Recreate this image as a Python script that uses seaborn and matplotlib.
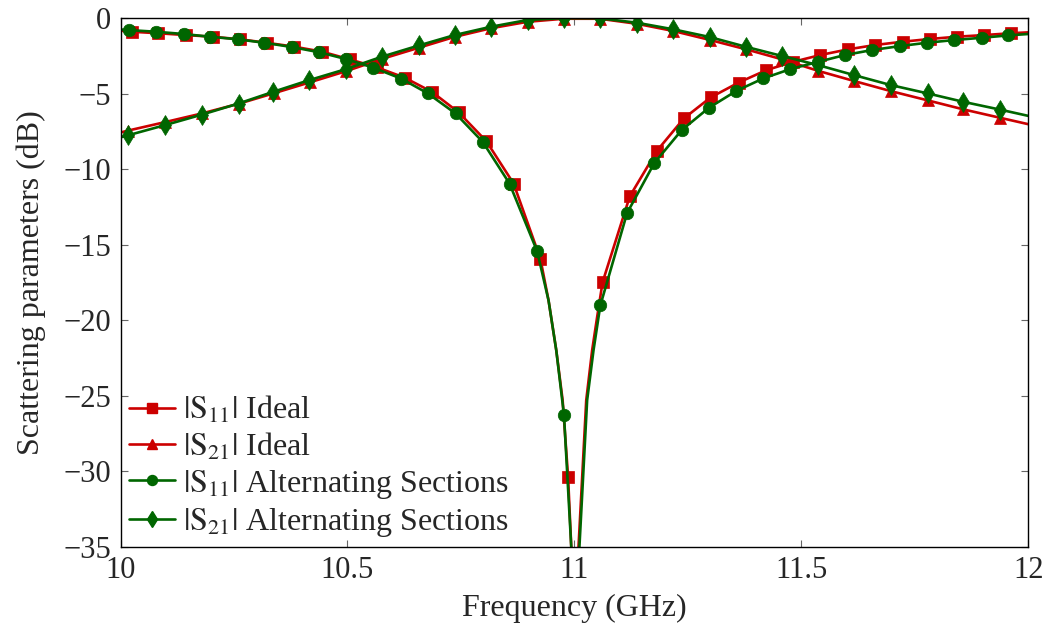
import numpy as np
import pandas as pd
import matplotlib.pyplot as plt
from matplotlib.lines import Line2D
import seaborn as sns

# |S11| ideal: marker points and extra points
s11_ideal_f = [10.025, 10.083, 10.144, 10.203, 10.263, 10.322, 10.383, 10.444, 10.505, 10.565,
               10.626, 10.686, 10.745, 10.806, 10.866, 10.925, 10.986, 11.062, 11.122, 11.182,
               11.241, 11.300, 11.362, 11.423, 11.482, 11.542, 11.602, 11.662, 11.723, 11.783,
               11.842, 11.903, 11.961]
s11_ideal_db = [-0.91, -1.01, -1.13, -1.24, -1.41, -1.64, -1.90, -2.23, -2.74, -3.27,
                -3.95, -4.89, -6.25, -8.16, -10.96, -15.94, -30.37, -17.49, -11.80, -8.78,
                -6.65, -5.26, -4.27, -3.45, -2.90, -2.45, -2.08, -1.79, -1.57, -1.39,
                -1.24, -1.13, -1.01]
s11_ideal_extra_f = [10.0, 10.943, 10.960, 10.974, 10.993, 11.001, 11.009, 11.026, 11.039, 11.050, 12.0]
s11_ideal_extra_db = [-0.84, -18.7, -22.0, -25.3, -35.0, -50.0, -35.0, -25.3, -22.0, -19.8, -0.95]

# |S21| ideal
s21_ideal_f = [10.017, 10.097, 10.179, 10.260, 10.338, 10.418, 10.497, 10.577, 10.657, 10.736,
               10.816, 10.897, 10.976, 11.056, 11.137, 11.218, 11.298, 11.379, 11.458, 11.537,
               11.616, 11.697, 11.778, 11.857, 11.937]
s21_ideal_db = [-7.45, -6.90, -6.32, -5.68, -4.98, -4.25, -3.52, -2.70, -1.97, -1.25,
                -0.68, -0.25, -0.05, -0.05, -0.38, -0.86, -1.45, -2.08, -2.74, -3.50,
                -4.17, -4.84, -5.45, -6.05, -6.60]
s21_ideal_extra_f = [10.0, 12.0]
s21_ideal_extra_db = [-7.58, -7.03]

# |S11| alternating sections
s11_alt_f = [10.019, 10.078, 10.139, 10.197, 10.258, 10.317, 10.377, 10.438, 10.497, 10.557,
             10.619, 10.677, 10.738, 10.798, 10.857, 10.918, 10.977, 11.057, 11.116, 11.176,
             11.236, 11.296, 11.357, 11.416, 11.476, 11.537, 11.596, 11.656, 11.717, 11.776,
             11.836, 11.897, 11.956]
s11_alt_db = [-0.80, -0.91, -1.06, -1.24, -1.41, -1.64, -1.92, -2.27, -2.72, -3.29,
              -4.02, -4.99, -6.32, -8.20, -10.96, -15.45, -26.28, -19.03, -12.91, -9.60,
              -7.43, -5.95, -4.82, -4.00, -3.38, -2.90, -2.45, -2.12, -1.86, -1.64,
              -1.46, -1.31, -1.15]
s11_alt_extra_f = [10.0, 10.943, 10.960, 10.993, 11.002, 11.011, 11.028, 11.042, 12.0]
s11_alt_extra_db = [-0.76, -18.7, -22.0, -35.0, -50.0, -35.0, -25.3, -22.0, -1.06]

# |S21| alternating sections
s21_alt_f = [10.017, 10.097, 10.180, 10.260, 10.336, 10.416, 10.497, 10.576, 10.657, 10.736,
             10.816, 10.897, 10.976, 11.056, 11.137, 11.218, 11.298, 11.377, 11.458, 11.537,
             11.616, 11.697, 11.778, 11.857, 11.937]
s21_alt_db = [-7.76, -7.10, -6.39, -5.66, -4.89, -4.11, -3.38, -2.56, -1.82, -1.13,
              -0.58, -0.13, -0.01, -0.02, -0.31, -0.75, -1.26, -1.90, -2.52, -3.12,
              -3.78, -4.44, -4.99, -5.55, -6.06]
s21_alt_extra_f = [10.0, 12.0]
s21_alt_extra_db = [-7.90, -6.48]

labels = [r'$|\mathrm{S}_{11}|$ Ideal', r'$|\mathrm{S}_{21}|$ Ideal',
          r'$|\mathrm{S}_{11}|$ Alternating Sections', r'$|\mathrm{S}_{21}|$ Alternating Sections']

x_ticks = [10, 10.5, 11, 11.5, 12]
x_tick_labels = ['10', '10.5', '11', '11.5', '12']
y_ticks = [0, -5, -10, -15, -20, -25, -30, -35]
y_tick_labels = ['0', '\u22125', '\u221210', '\u221215', '\u221220', '\u221225', '\u221230', '\u221235']

RED = '#cc0000'
GREEN = '#006600'


def merge_curve(f, db, extra_f, extra_db):
    """Join marker points and line-only points, return sorted frame and marker indices."""
    df = pd.DataFrame({
        'f': list(f) + list(extra_f),
        'db': list(db) + list(extra_db),
        'mark': [True] * len(f) + [False] * len(extra_f),
    })
    df = df.sort_values('f').reset_index(drop=True)
    return df, list(np.flatnonzero(df['mark'].values))


sns.set_style('ticks')
plt.rcParams['font.family'] = ['Liberation Serif', 'DejaVu Serif']
plt.rcParams['mathtext.fontset'] = 'stix'

fig = plt.figure(figsize=(10.49, 6.27), dpi=100)
ax = fig.add_axes([0.1149, 0.128, 0.8654, 0.8433])

series = [
    (s11_ideal_f, s11_ideal_db, s11_ideal_extra_f, s11_ideal_extra_db, RED, 's', 9),
    (s21_ideal_f, s21_ideal_db, s21_ideal_extra_f, s21_ideal_extra_db, RED, '^', 9),
    (s11_alt_f, s11_alt_db, s11_alt_extra_f, s11_alt_extra_db, GREEN, 'o', 9),
    (s21_alt_f, s21_alt_db, s21_alt_extra_f, s21_alt_extra_db, GREEN, 'd', 10),
]

handles = []
for (f, db, ef, edb, color, marker, ms), lab in zip(series, labels):
    df, idx = merge_curve(f, db, ef, edb)
    sns.lineplot(data=df, x='f', y='db', ax=ax, color=color, linewidth=1.9,
                 marker=marker, markersize=ms, markevery=idx,
                 markeredgecolor=color, markeredgewidth=0.5,
                 estimator=None, sort=False, legend=False)
    handles.append(Line2D([], [], color=color, linewidth=1.9, marker=marker,
                          markersize=ms * 0.8, markeredgecolor=color, label=lab))

ax.set_xlim(10, 12)
ax.set_ylim(-35, 0)
ax.set_xticks(x_ticks)
ax.set_xticklabels(x_tick_labels)
ax.set_yticks(y_ticks)
ax.set_yticklabels(y_tick_labels)
ax.tick_params(direction='in', top=True, right=True, length=5, width=0.8,
               color='#666666', labelsize=22, pad=7)
for sp in ax.spines.values():
    sp.set_linewidth(1.0)
    sp.set_color('black')

ax.set_xlabel('Frequency (GHz)', fontsize=23, labelpad=6)
ax.set_ylabel('Scattering parameters (dB)', fontsize=23, labelpad=12)

ax.legend(handles=handles, loc='lower left', bbox_to_anchor=(0.0, 0.0), frameon=False,
          fontsize=23, handlelength=1.45, handletextpad=0.25, labelspacing=0.16,
          borderpad=0.1, borderaxespad=0.15, numpoints=1)

fig.savefig('out.png', dpi=100)
